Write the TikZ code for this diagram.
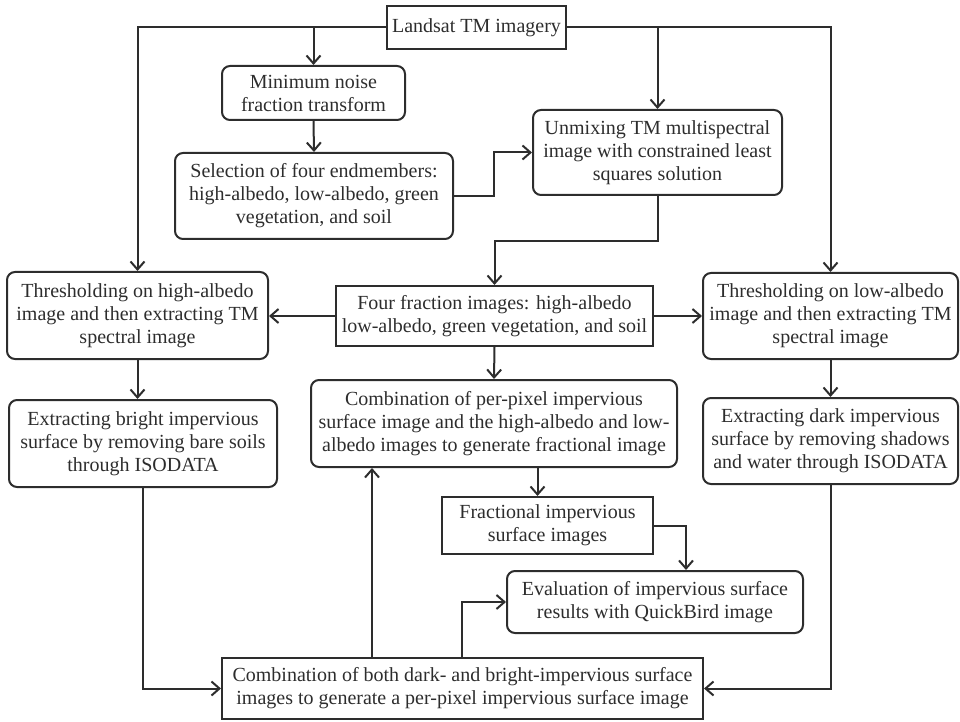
\documentclass[tikz,border=0pt]{standalone}
\usepackage{fontspec}
\setmainfont{Liberation Serif}
\usepackage{tikz}
\usetikzlibrary{arrows.meta, positioning, calc}
\definecolor{inkgray}{RGB}{45, 45, 45}
\tikzstyle{block} = [rectangle, draw=inkgray, text=inkgray, align=center, rounded corners=4pt, line width=1pt, inner sep=2pt, font=\fontsize{10}{11.5}\selectfont]
\tikzstyle{plainblock} = [rectangle, draw=inkgray, text=inkgray, align=center, line width=1pt, inner sep=2pt, font=\fontsize{10}{11.5}\selectfont]
\tikzstyle{arrow} = [-{Straight Barb[length=4pt, width=7pt]}, draw=inkgray, line width=1pt]
\tikzstyle{link} = [draw=inkgray, line width=1pt]
\begin{document}
\begin{tikzpicture}[x=0.5pt, y=-0.5pt]
    \useasboundingbox (0,0) rectangle (960,722);
    % Input and preprocessing
    \node[plainblock, minimum width=89.5pt, minimum height=21.5pt] (landsat) at (476.5, 27.5) {Landsat TM imagery};
    \node[block, minimum width=91.5pt, minimum height=27pt] (mnf) at (313.5, 93) {Minimum noise\\fraction transform};
    \node[block, minimum width=139pt, minimum height=43pt] (select) at (314, 196) {Selection of four endmembers:\\high-albedo, low-albedo, green\\vegetation, and soil};
    \node[block, minimum width=124.5pt, minimum height=42.5pt] (unmix) at (657.5, 152.5) {Unmixing TM multispectral\\image with constrained least\\squares solution};
    \node[plainblock, minimum width=158.5pt, minimum height=30pt] (four) at (494.5, 316) {Four fraction images: high-albedo\\low-albedo, green vegetation, and soil};
    
    % Thresholding branches
    \node[block, minimum width=130.5pt, minimum height=43.5pt] (threshhigh) at (137.5, 315.5) {Thresholding on high-albedo\\image and then extracting TM\\spectral image};
    \node[block, minimum width=127.5pt, minimum height=43pt] (threshlow) at (830.5, 316) {Thresholding on low-albedo\\image and then extracting TM\\spectral image};
    \node[block, minimum width=134pt, minimum height=43.5pt] (brightimp) at (143, 443.5) {Extracting bright impervious\\surface by removing bare soils\\through ISODATA};
    \node[block, minimum width=127.5pt, minimum height=43pt] (darkimp) at (830.5, 441) {Extracting dark impervious\\surface by removing shadows\\and water through ISODATA};
    
    % Combination and evaluation
    \node[block, minimum width=183pt, minimum height=43.5pt] (combofrac) at (494, 423.5) {Combination of per-pixel impervious\\surface image and the high-albedo and low-\\albedo images to generate fractional image};
    \node[plainblock, minimum width=105.5pt, minimum height=28.5pt] (fractional) at (547.5, 525.5) {Fractional impervious\\surface images};
    \node[block, minimum width=148pt, minimum height=31pt] (evaluation) at (655, 602) {Evaluation of impervious surface\\results with QuickBird image};
    \node[plainblock, minimum width=240.5pt, minimum height=30.5pt] (combopixel) at (462.5, 688.5) {Combination of both dark- and bright-impervious surface\\images to generate a per-pixel impervious surface image};
    
    \draw[arrow] (landsat.west) -| (threshhigh.north);
    \draw[arrow] (landsat.east) -| (threshlow.north);
    \draw[arrow] (mnf.north |- landsat.west) -- (mnf.north);
    \draw[arrow] (unmix.north |- landsat.east) -- (unmix.north);
    \draw[arrow] (mnf.south) -- (select.north);
    \draw[arrow] (select.east) -- ++(40,0) |- (unmix.west);
    \draw[arrow] (unmix.south) -- ++(0,45) -| (four.north);
    \draw[arrow] (four.west) -- (four.west -| threshhigh.east);
    \draw[arrow] (four.east) -- (four.east -| threshlow.west);
    \draw[arrow] (four.south) -- (combofrac.north);
    \draw[arrow] (threshhigh.south) -- (threshhigh.south |- brightimp.north);
    \draw[arrow] (threshlow.south) -- (threshlow.south |- darkimp.north);
    \draw[arrow] (brightimp.south) |- (combopixel.west);
    \draw[arrow] (darkimp.south) |- (combopixel.east);
    \draw[arrow] ([xshift=-5pt]fractional.north |- combofrac.south) -- ([xshift=-5pt]fractional.north);
    \draw[arrow] (fractional.east) -| ([xshift=15.5pt]evaluation.north);
    \draw[arrow] ([xshift=75.5pt]combopixel.north west) -- ([xshift=75.5pt]combopixel.north west |- combofrac.south);
    \draw[arrow] ([xshift=120.5pt]combopixel.north west) |- (evaluation.west);
\end{tikzpicture}
\end{document}
